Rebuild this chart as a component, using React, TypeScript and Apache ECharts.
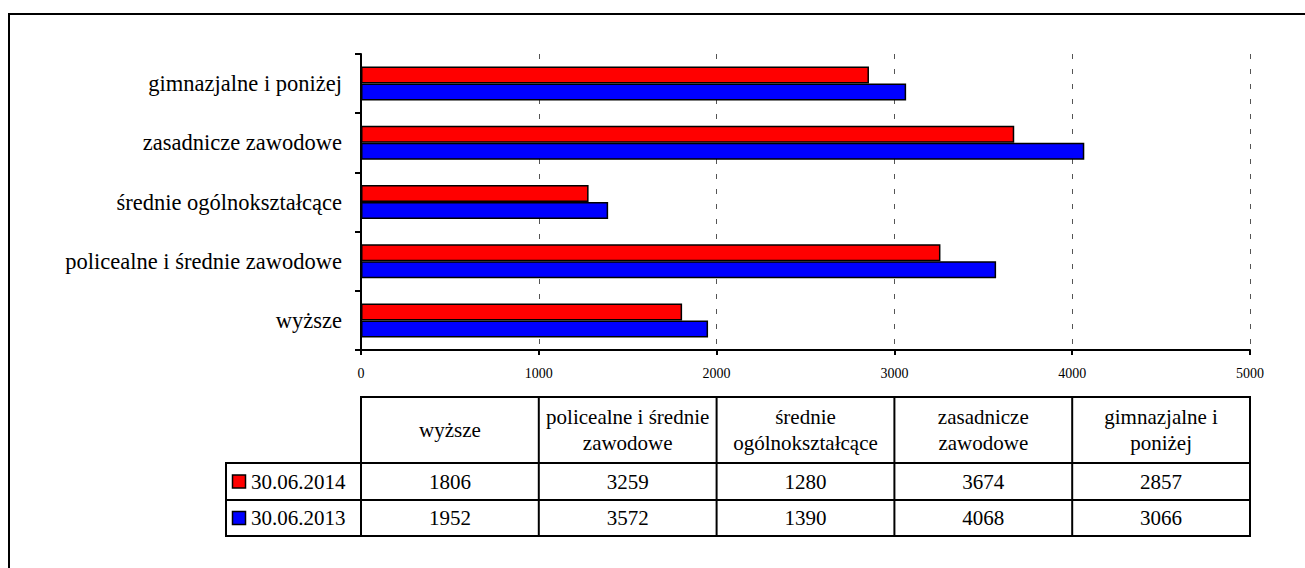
import React, { useEffect, useRef } from "react";
import * as echarts from "echarts";

const categories = [
  "wyższe",
  "policealne i średnie zawodowe",
  "średnie ogólnokształcące",
  "zasadnicze zawodowe",
  "gimnazjalne i poniżej",
];
const tableHeaders = [
  "wyższe",
  "policealne i średnie\nzawodowe",
  "średnie\nogólnokształcące",
  "zasadnicze\nzawodowe",
  "gimnazjalne i\nponiżej",
];
const series2014Name = "30.06.2014";
const series2013Name = "30.06.2013";
const values2014 = [1806, 3259, 1280, 3674, 2857];
const values2013 = [1952, 3572, 1390, 4068, 3066];
const xTicks = [0, 1000, 2000, 3000, 4000, 5000];

const FONT = "Liberation Serif";
const RED = "#FF0000";
const BLUE = "#0000FF";

export default function App() {
  const ref = useRef<HTMLDivElement>(null);
  useEffect(() => {
    if (!ref.current) return;
    const chart = echarts.init(ref.current, undefined, { renderer: "svg" });
    const gridTop = 54;
    const gridBottomY = 350;
    chart.setOption({
      animation: false,
      backgroundColor: "#ffffff",
      textStyle: { fontFamily: FONT },
      grid: { left: 361, right: 55, top: gridTop, bottom: 568 - gridBottomY, containLabel: false },
      xAxis: {
        type: "value",
        min: xTicks[0],
        max: xTicks[xTicks.length - 1],
        interval: 1000,
        axisLine: { show: true, lineStyle: { color: "#000", width: 2 } },
        axisTick: { show: true, length: 5, lineStyle: { color: "#000", width: 2 } },
        axisLabel: {
          fontFamily: FONT,
          fontSize: 14,
          color: "#000",
          margin: 16,
          formatter: (v: number) => String(v),
        },
        splitLine: { show: true, lineStyle: { color: "#555", type: [5, 10], width: 1 } },
      },
      yAxis: {
        type: "category",
        data: categories,
        axisLine: { show: true, lineStyle: { color: "#000", width: 2 } },
        axisTick: { show: true, length: 6, lineStyle: { color: "#000", width: 2 } },
        axisLabel: { fontFamily: FONT, fontSize: 22.5, color: "#000", margin: 19 },
        splitLine: { show: false },
      },
      series: [
        {
          name: series2014Name,
          type: "bar",
          data: values2014,
          barWidth: 17,
          barGap: "0%",
          itemStyle: { color: RED, borderColor: "#000", borderWidth: 1.5 },
        },
        {
          name: series2013Name,
          type: "bar",
          data: values2013,
          barWidth: 17,
          barGap: "0%",
          itemStyle: { color: BLUE, borderColor: "#000", borderWidth: 1.5 },
        },
      ],
    });

    const colX = xTicks.map((v) => chart.convertToPixel({ xAxisIndex: 0 }, v) as number);
    const tTop = 397;
    const r1 = 463;
    const r2 = 500;
    const r3 = 536;
    const legendLeft = 226;
    const lineStyle = { stroke: "#000", lineWidth: 2 };
    const els: any[] = [];
    const hline = (x1: number, x2: number, y: number) =>
      els.push({ type: "line", shape: { x1, y1: y, x2, y2: y }, style: lineStyle, silent: true });
    const vline = (x: number, y1: number, y2: number) =>
      els.push({ type: "line", shape: { x1: x, y1, x2: x, y2 }, style: lineStyle, silent: true });

    els.push({
      type: "rect",
      shape: { x: 9, y: 14, width: 1400, height: 700 },
      style: { fill: "none", stroke: "#000", lineWidth: 2 },
      silent: true,
    });

    hline(colX[0] - 1, colX[5] + 1, tTop);
    hline(legendLeft - 1, colX[5] + 1, r1);
    hline(legendLeft - 1, colX[5] + 1, r2);
    hline(legendLeft - 1, colX[5] + 1, r3);
    vline(legendLeft, r1, r3);
    colX.forEach((x) => vline(x, tTop, r3));

    const TFONT = `21px ${FONT}`;
    const mids = colX.slice(0, 5).map((x, i) => (x + colX[i + 1]) / 2);
    tableHeaders.forEach((h, i) => {
      els.push({
        type: "text",
        x: mids[i],
        y: (tTop + r1) / 2,
        style: {
          text: h,
          font: TFONT,
          fill: "#000",
          align: "center",
          verticalAlign: "middle",
          lineHeight: 26,
        },
        silent: true,
      });
    });
    const rows = [
      { name: series2014Name, color: RED, vals: values2014, y: (r1 + r2) / 2 },
      { name: series2013Name, color: BLUE, vals: values2013, y: (r2 + r3) / 2 },
    ];
    rows.forEach((row) => {
      els.push({
        type: "rect",
        shape: { x: 232.5, y: row.y - 6.5, width: 13, height: 13 },
        style: { fill: row.color, stroke: "#000", lineWidth: 1.5 },
        silent: true,
      });
      els.push({
        type: "text",
        x: 251,
        y: row.y,
        style: {
          text: row.name,
          font: TFONT,
          fill: "#000",
          align: "left",
          verticalAlign: "middle",
        },
        silent: true,
      });
      row.vals.forEach((v, i) => {
        els.push({
          type: "text",
          x: mids[i],
          y: row.y,
          style: {
            text: String(v),
            font: TFONT,
            fill: "#000",
            align: "center",
            verticalAlign: "middle",
          },
          silent: true,
        });
      });
    });
    chart.setOption({ graphic: { elements: els } });

    return () => chart.dispose();
  }, []);
  return (
    <div
      ref={ref}
      style={{ position: "fixed", left: 0, top: 0, width: 1305, height: 568, background: "#fff" }}
    />
  );
}
